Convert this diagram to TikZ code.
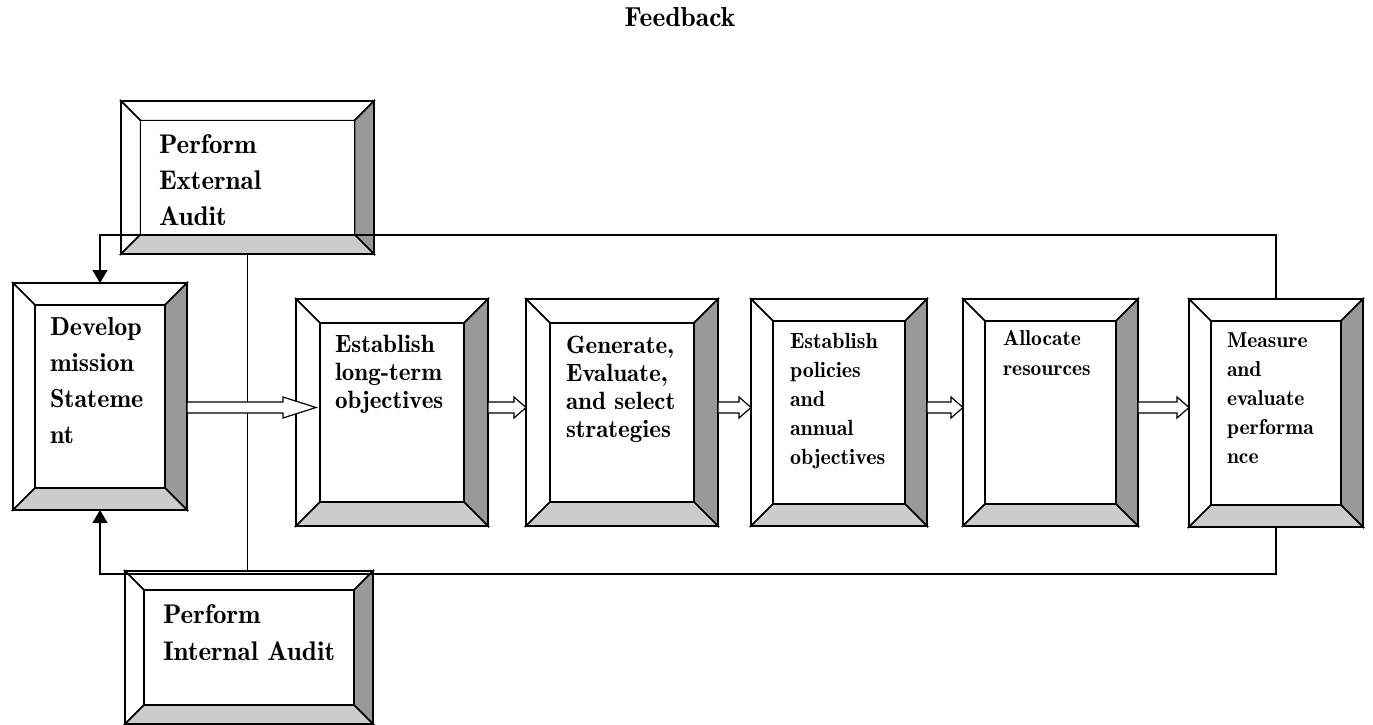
\documentclass[tikz,border=0pt]{standalone}
\usetikzlibrary{arrows.meta,calc,fit}
\definecolor{bevdark}{HTML}{999999}
\definecolor{bevlight}{HTML}{CCCCCC}
\tikzset{
  boxline/.style={draw=black, line width=1.5pt, line join=miter},
  fbline/.style={draw=black, line width=1.3pt},
  fbarrow/.style={fbline, -{Triangle[width=15pt,length=13pt]}},
  hollow/.style={draw=black, fill=white, line width=1.2pt, line join=miter},
  txt/.style={anchor=base west, inner sep=0pt, outer sep=0pt},
  hitbox/.style={inner sep=0pt, outer sep=0pt, draw=none},
}
% bevelled box: name, x1, y1, x2, y2, bevel
\newcommand\bbox[6]{%
  \filldraw[boxline, fill=white] (#2,#3) rectangle (#4,#5);
  \filldraw[boxline, fill=white] (#2,#3) -- (#4,#3) -- ({#4-#6},{#3+#6}) -- ({#2+#6},{#3+#6}) -- cycle;
  \filldraw[boxline, fill=white] (#2,#3) -- ({#2+#6},{#3+#6}) -- ({#2+#6},{#5-#6}) -- (#2,#5) -- cycle;
  \filldraw[boxline, fill=bevdark] (#4,#3) -- (#4,#5) -- ({#4-#6},{#5-#6}) -- ({#4-#6},{#3+#6}) -- cycle;
  \filldraw[boxline, fill=bevlight] (#2,#5) -- (#4,#5) -- ({#4-#6},{#5-#6}) -- ({#2+#6},{#5-#6}) -- cycle;
  \filldraw[boxline, fill=white] ({#2+#6},{#3+#6}) rectangle ({#4-#6},{#5-#6});
  \draw[boxline] (#2,#3) rectangle (#4,#5);
  \coordinate (#1nw) at (#2,#3); \coordinate (#1se) at (#4,#5);
  \coordinate (#1inw) at ({#2+#6},{#3+#6}); \coordinate (#1ise) at ({#4-#6},{#5-#6});
  \node[hitbox, fit=(#1nw)(#1se)] (#1) {};
  \node[hitbox, fit=(#1inw)(#1ise)] (#1in) {};
}
% text block: name, x, first baseline y, size, skip, text
\newcommand\btext[6]{%
  \node[txt] (#1) at (#2,#3) {\parbox[t]{220pt}{\fontsize{#4}{#5}\fontseries{b}\selectfont\raggedright #6}};}
% hollow arrow: start, tip, head length
\newcommand\harrow[3]{%
  \draw[hollow] let \p1=(#1), \p2=(#2) in
    (\x1,{\y1+5.5pt}) -- ({\x2-#3},{\y1+5.5pt}) -- ({\x2-#3},{\y1+10.5pt}) -- (\x2,\y1)
    -- ({\x2-#3},{\y1-10.5pt}) -- ({\x2-#3},{\y1-5.5pt}) -- (\x1,{\y1-5.5pt}) -- cycle;}
\begin{document}
\begin{tikzpicture}[x=1pt,y=-1pt]
\useasboundingbox (0,0) rectangle (1373,725);

\node[anchor=base, inner sep=0pt] (fb) at (680,27) {\fontsize{27.5}{30}\fontseries{b}\selectfont Feedback};

\bbox{ext}{121}{101}{374}{254}{19.5}
\bbox{int}{125}{571}{373}{724}{19}
\bbox{dev}{13}{283}{187}{510}{22}
\bbox{bb}{296}{299}{488}{526}{24}
\bbox{bc}{526}{299}{718}{526}{24}
\bbox{bd}{751}{299}{927}{526}{22}
\bbox{be}{963}{299}{1138}{526}{22}
\bbox{bf}{1189}{299}{1363}{527}{22}

\coordinate (fbT) at (0,235);
\coordinate (fbB) at (0,574);
\coordinate (ay) at (0,407.5);

\draw[fbarrow] (bf.north) -- (bf.north |- fbT) -- (dev.north |- fbT) -- (dev.north);
\draw[fbarrow] (bf.south) -- (bf.south |- fbB) -- (dev.south |- fbB) -- (dev.south);
\draw[fbline] (ext.south) -- (ext.south |- int.north);

\harrow{dev.east |- ay}{$(bbin.west |- ay)+(-4,0)$}{33pt}
\harrow{bb.east |- ay}{bc.west |- ay}{12pt}
\harrow{bc.east |- ay}{bd.west |- ay}{12pt}
\harrow{bd.east |- ay}{be.west |- ay}{12pt}
\harrow{be.east |- ay}{bf.west |- ay}{12pt}

\btext{extt}{159}{153}{27}{36}{Perform\\External\\Audit}
\btext{intt}{163}{623}{27}{37}{Perform\\Internal Audit}
\btext{devt}{50}{335}{26}{36}{Develop\\mission\\Stateme\\nt}
\btext{bbt}{335}{352}{25}{28}{Establish\\long-term\\objectives}
\btext{bct}{566}{353}{25}{28}{Generate,\\Evaluate,\\and select\\strategies}
\btext{bdt}{790}{348}{22}{29}{Establish\\policies\\and\\annual\\objectives}
\btext{bet}{1003}{345}{21.5}{30}{Allocate\\resources}
\btext{bft}{1227}{347}{21.5}{29}{Measure\\and\\evaluate\\performa\\nce}
\end{tikzpicture}
\end{document}
